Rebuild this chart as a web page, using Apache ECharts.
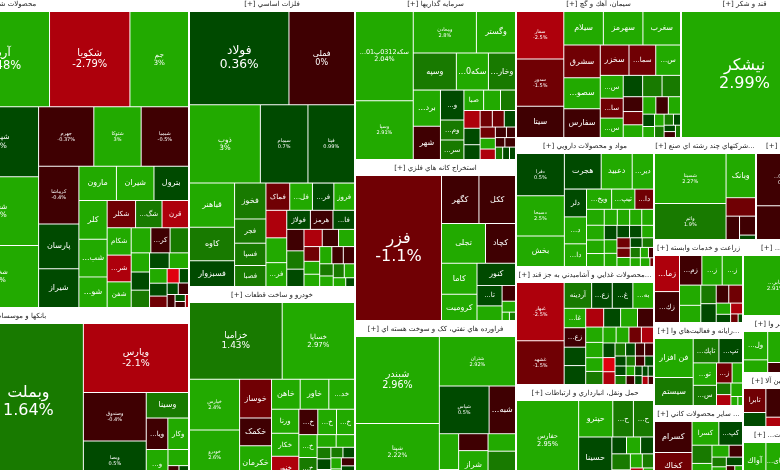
<!DOCTYPE html>
<html><head><meta charset="utf-8">
<style>html,body{margin:0;padding:0;background:#fff;overflow:hidden}#c{width:780px;height:470px}</style>
<script src="https://cdn.jsdelivr.net/npm/echarts@6/dist/echarts.min.js"></script>
</head><body><div id="c"></div>
<script>
// Each array: cell names (with change text where the cell prints it), traded size, % change.
const chemNames=["فارس\n1.2%","نوری\n2.5%","آریا\n2.48%","شکویا\n-2.79%","جم\n3%","شپدیس\n0.6%","شغدیر\n2.5%","شخارک\n2.7%","جهرم\n-0.37%","شتوکا\n3%","شیمیا\n-0.5%","کرماشا\n-0.4%","پارسان","شیراز","مارون","شیران","بترول","کلر","...شب","...شو","شکلر","...شگ","قرن","شکام","...شر","شفن","","...کر","","","","","...و","","","","","","","","","","","",""];
const chemValues=[22000,18500,8650,7450,5430,5600,5520,4960,3192,2736,2736,2262,1755,1521,1250,1250,1150,1064,1036,840,754,702,702,640,625,600,480,470,450,342,324,310,300,295,250,220,195,170,130,125,115,100,70,60,40];
const chemChanges=[1.2,2.5,2.48,-2.79,3,0.6,2.5,2.7,-0.37,3,-0.5,-0.4,0.5,0.5,2.5,2.5,0.5,2.5,2.5,2.5,-1.5,1.5,-2.5,2.5,-2.5,2.5,2.5,-0.4,1.5,2.5,0.5,1.5,0.5,2.5,2.5,0.5,-1.5,-3.5,0.5,0.5,-0.4,-0.4,0.5,-0.4,-2.5];

const bankNames=["وتجارت\n1.1%","وبملت\n1.64%","وپارس\n-2.1%","وصندوق\n-0.4%","وبصا\n0.5%","وسینا","...ویا","وکار","...و","","",""];
const bankValues=[24180,16850,7128,2989,2379,1058,667,638,640,325,150,130];
const bankChanges=[1.1,1.64,-2.1,-0.4,0.5,1.5,-0.4,2.5,2.5,2.5,-0.4,0.5];

const metalNames=["فولاد\n0.36%","فملی\n0%","ذوب\n3%","سیمام\n0.7%","فپنا\n0.99%","قباهنر","کاوه","فسبزوار","فخوز","فجر","فسپا","فصبا","فماک","...فل","...فر","فروز","","","...فر","فولاژ","هرمز","...فا","","","","","","","","","","","","","","","","","",""];
const metalValues=[9150,6030,5480,3680,3600,1960,1500,1140,1110,750,690,650,640,610,575,555,565,510,490,445,425,405,365,312,295,310,277,271,228,200,190,206,195,190,163,141,152,141,108,76];
const metalChanges=[0.36,0,3,0.7,0.99,2.5,1.5,0.5,1.5,1.5,1.5,1.5,-1.5,2.5,0.5,2.5,-2.5,2.5,2.5,0.5,-0.4,0.5,-0.4,1.5,0.5,-2.5,-0.4,2.5,-1.5,2.5,2.5,2.5,-0.4,-0.4,1.5,2.5,1.5,2.5,2.5,0.5];

const autoNames=["خزامیا\n1.43%","خساپا\n2.97%","خپارس\n2.4%","خودرو\n2.6%","خوساز","خکمک","خکرمان","خاهن","خاور","...خد","ورنا","خکار","خنور","...خ","...خ","...خ","...خ","...خ","","","","","","","","","","","",""];
const autoValues=[6734,5254,2400,2350,1170,840,1020,812,812,728,621,594,600,456,450,432,396,380,228,220,150,140,130,120,115,110,105,100,90,80];
const autoChanges=[1.43,2.97,2.4,2.6,-1.5,-0.4,2.5,2.5,2.5,2.5,2.5,2.5,-2.5,-0.4,2.5,2.5,2.5,1.5,2.5,2.5,1.5,0.5,1.5,1.5,0.5,2.5,2.5,-0.4,0.5,2.5];

const investNames=["...سکه0312پ01\n2.04%","وسپا\n2.91%","ومعادن\n2.8%","وگستر","وسپه","...سکه0","...وخار","...برد","شهر","...و","...وم","...سر","صبا","","","","","","","","","","","","","","","","","",""];
const investValues=[4840,3190,2457,1521,1505,1120,945,925,850,660,440,430,378,324,288,270,250,225,190,185,175,160,155,150,110,90,85,95,85,80,70];
const investChanges=[2.04,2.91,2.8,2.5,1.5,2.5,1.5,2.5,-0.4,0.5,1.5,1.5,2.5,2.5,1.5,-2.5,0.5,0.5,-1.5,-1.5,0.5,-1.5,2.5,-2.5,-0.4,-0.4,-0.4,-0.4,1.5,0.5,0.5];

const miningNames=["فزر\n-1.1%","کگهر","ککل","تجلی","کچاد","کاما","کرومیت","کنور","...تا","","","","",""];
const miningValues=[12240,1760,1720,1716,1170,1085,910,840,504,360,208,144,60,50];
const miningChanges=[-1.1,-0.4,-0.4,2.5,-0.4,2.5,2.5,0.5,0.5,2.5,-0.4,2.5,2.5,1.5];

const oilNames=["شبندر\n2.96%","شپنا\n2.22%","شتران\n2.92%","شپاس\n0.5%","...شبه","","","شسپا","شراز","...شن","","",""];
const oilValues=[7221,4648,3724,2352,1248,684,190,493,841,476,560,110,100];
const oilChanges=[2.96,2.22,2.92,0.5,-0.4,2.5,0.5,-0.4,2.5,2.5,1.5,-0.4,2.5];

const cementNames=["سفار\n-2.5%","سدور\n-1.5%","سیتا","سیلام","سهرمز","سغرب","سشرق","...سصو","سفارس","سخزر","...سما","...س","...س","...سا","...س","","","","","","","","","","","","","","","","","",""];
const cementValues=[2162,2162,1426,1280,1280,1216,1155,1085,1015,841,783,725,506,440,430,400,400,380,280,250,240,220,210,205,140,125,110,105,100,75,70,65,60];
const cementChanges=[-2.5,-1.5,-0.4,2.5,2.5,2.5,-1.5,2.5,-0.4,-1.5,-1.5,2.5,2.5,-1.5,2.5,0.5,1.5,1.5,-0.4,-1.5,2.5,2.5,-0.4,2.5,0.5,2.5,2.5,1.5,1.5,0.5,0.5,-0.4,1.5];

const sugarNames=["نیشکر\n2.99%"];
const sugarValues=[15750];
const sugarChanges=[2.99];

const pharmaNames=["دفرا\n0.5%","دسبحا\n2.5%","بخش","هجرت","دعبید","...دیر","دلر","...د","...دا","...ویخ","...تیپ","...دا","...ز","","","","","","","","","","","","","","","","","","","","","","","",""];
const pharmaValues=[1935,1845,1395,1254,1056,726,588,570,480,486,450,360,270,250,230,220,200,190,185,180,175,165,160,150,145,140,130,120,115,110,105,100,85,80,50,80,30];
const pharmaChanges=[0.5,2.5,2.5,0.5,2.5,2.5,0.5,2.5,2.5,2.5,2.5,-1.5,2.5,2.5,2.5,2.5,2.5,2.5,2.5,2.5,0.5,2.5,2.5,0.5,0.5,2.5,-1.5,-1.5,2.5,0.5,1.5,1.5,2.5,2.5,-0.4,2.5,-1.5];

const foodNames=["غبهار\n-2.5%","غشهد\n-1.5%","آردینه","...زع","...غ","...به","...غا","...زع","...غ","...غ","...غ","...غ","غزر","...غ","...غ","","","","","","","","","","","","","","","","","","","","","","","","","","","",""];
const foodValues=[2520,1890,644,483,483,483,380,380,360,370,306,288,288,272,240,240,215,205,190,185,180,175,160,155,140,125,115,110,105,100,95,90,85,85,80,75,70,65,60,55,50,45,40];
const foodChanges=[-2.5,-1.5,1.5,0.5,0.5,2.5,2.5,-0.4,0.5,0.5,-2.5,0.5,2.5,-0.4,2.5,2.5,2.5,1.5,2.5,2.5,-1.5,-2.5,0.5,-3.5,-2.5,1.5,0.5,-0.4,-0.4,0.5,0.5,1.5,1.5,-0.4,0.5,2.5,-0.4,0.5,0.5,0.5,0.5,-2.5,-0.4];

const transportNames=["حفارس\n2.95%","حپترو","...ح","...ح","حسینا","","","","","","","","",""];
const transportValues=[4960,1258,760,740,1428,250,240,220,300,180,170,160,150,120];
const transportChanges=[2.95,2.5,1.5,1.5,0.5,0.5,2.5,0.5,1.5,1.5,2.5,1.5,-2.5,2.5];

const multiNames=["شسینا\n2.27%","واتم\n1.9%","وبانک","...وکغد","","",""];
const multiValues=[3550,2556,1290,540,312,300,70];
const multiChanges=[2.27,1.9,2.5,-1.5,-0.4,-0.4,0.5];

const glassNames=["...کم04\n0%","",""];
const glassValues=[2666,900,820];
const glassChanges=[0,-0.4,-0.4];

const agriNames=["...زما","...زك","...زم","...ز","...ز","","...اغ","","","","","","","","",""];
const agriValues=[840,720,616,560,560,400,340,266,270,210,230,150,110,120,60,35];
const agriChanges=[-2.5,-0.4,-0.4,2.5,2.5,2.5,2.5,1.5,0.5,-0.4,-1.5,2.5,0.5,-2.5,-1.5,0.5];

const itNames=["فن افزار","سیستم","...تاپك","...تپ","...تو","...س","...ز","","","","","",""];
const itValues=[1443,1036,600,550,500,450,300,200,160,150,150,60,40];
const itChanges=[2.5,1.5,1.5,0.5,2.5,1.5,-1.5,2.5,1.5,-2.5,2.5,2.5,2.5];

const nonmetalNames=["کسرام","کخاك","کسرا","...کپ","...کرا","","","","","","","",""];
const nonmetalValues=[1088,950,594,525,340,300,190,150,130,170,130,110,100];
const nonmetalChanges=[-0.4,-1.5,2.5,0.5,1.5,2.5,2.5,-0.4,1.5,2.5,0.5,-0.4,2.5];

const telecomNames=["...خابر\n2.91%"];
const telecomValues=[4160];
const telecomChanges=[2.91];

const miscNames=["...ول","","","",""];
const miscValues=[672,300,663,546,390];
const miscChanges=[2.5,2.5,2.5,2.5,-0.4];

const machineNames=["تابرا","","","","","",""];
const machineValues=[504,294,480,156,150,400,300];
const machineChanges=[-1.5,0.5,-0.4,-2.5,1.5,-0.4,2.5];

const dataNames=["آواك","...های","",""];
const dataValues=[840,731,430,400];
const dataChanges=[2.5,2.5,-0.4,2.5];

const groupSizes={chem:116064,bank:63984,metal:48306,auto:32038,invest:26404,mining:25921,oil:25599,cement:23430,sugar:18034,pharma:17802,food:16284,transport:13110,multi:10404,glass:5304,agri:7387,it:7387,nonmetal:6586,telecom:4940,misc:3705,machine:3510,info:3445};

const FONT='"DejaVu Sans"';
function colorOf(c){
  if(c>=2) return '#22aa00';
  if(c>=1) return '#187a00';
  if(c>0) return '#004a00';
  if(c>-1) return '#3f0002';
  if(c>-2) return '#700004';
  if(c>-3) return '#ae000c';
  return '#e0000f';
}
function cells(names,values,changes){
  return names.map((name,i)=>{
    const v=values[i];
    const fs=name.includes('\n')?Math.max(5,Math.min(16,v/750)):(v<800?7:8);
    return {name,value:v,itemStyle:{color:colorOf(changes[i]),borderWidth:0,gapWidth:0},label:{fontSize:fs,lineHeight:Math.round(fs*1.15)}};
  });
}
function group(title,size,names,values,changes){
  return {name:title,value:size,
    upperLabel:{show:true,height:16,position:'inside',color:'#222',fontSize:7,fontFamily:FONT,overflow:'none'},
    itemStyle:{borderWidth:1,borderColor:'#fff',gapWidth:1},
    children:cells(names,values,changes)};
}
const regions=[
 {left:-185,top:-4,width:374,height:484,data:[
   group("[+] محصولات شیمیایی",groupSizes.chem,chemNames,chemValues,chemChanges),
   group("[+] بانکها و موسسات اعتباری",groupSizes.bank,bankNames,bankValues,bankChanges)]},
 {left:189,top:-4,width:166,height:484,data:[
   group("[+] فلزات اساسي",groupSizes.metal,metalNames,metalValues,metalChanges),
   group("[+] خودرو و ساخت قطعات",groupSizes.auto,autoNames,autoValues,autoChanges)]},
 {left:355,top:-4,width:161,height:484,data:[
   group("[+] سرمايه گذاريها",groupSizes.invest,investNames,investValues,investChanges),
   group("[+] استخراج کانه هاي فلزي",groupSizes.mining,miningNames,miningValues,miningChanges),
   group("[+] فراورده هاي نفتي، کک و سوخت هسته اي",groupSizes.oil,oilNames,oilValues,oilChanges)]},
 {left:516,top:-4,width:292,height:142,data:[
   group("[+] سيمان، آهك و گچ",groupSizes.cement,cementNames,cementValues,cementChanges),
   group("[+] قند و شكر",groupSizes.sugar,sugarNames,sugarValues,sugarChanges)]},
 {left:516,top:138,width:138,height:342,data:[
   group("[+] مواد و محصولات دارويي",groupSizes.pharma,pharmaNames,pharmaValues,pharmaChanges),
   group("[+] محصولات غذايي و آشاميدني به جز قند...",groupSizes.food,foodNames,foodValues,foodChanges),
   group("[+] حمل ونقل، انبارداري و ارتباطات",groupSizes.transport,transportNames,transportValues,transportChanges)]},
 {left:654,top:138,width:154,height:102,data:[
   group("[+] شرکتهاي چند رشته اي صنع...",groupSizes.multi,multiNames,multiValues,multiChanges),
   group("[+] ...گرم",groupSizes.glass,glassNames,glassValues,glassChanges)]},
 {left:654,top:240,width:89,height:240,data:[
   group("[+] زراعت و خدمات وابسته",groupSizes.agri,agriNames,agriValues,agriChanges),
   group("[+] رايانه و فعاليت‌هاي وا...",groupSizes.it,itNames,itValues,itChanges),
   group("[+] سایر محصولات کاني ...",groupSizes.nonmetal,nonmetalNames,nonmetalValues,nonmetalChanges)]},
 {left:743,top:240,width:65,height:240,data:[
   group("[+] ...ات",groupSizes.telecom,telecomNames,telecomValues,telecomChanges),
   group("[+] سایر وا...",groupSizes.misc,miscNames,miscValues,miscChanges),
   group("[+] ماشین آلا...",groupSizes.machine,machineNames,machineValues,machineChanges),
   group("[+] ...طلاعات",groupSizes.info,dataNames,dataValues,dataChanges)]}
];
const chart=echarts.init(document.getElementById('c'),null,{renderer:'canvas'});
chart.setOption({
  animation:false,
  backgroundColor:'#fff',
  textStyle:{fontFamily:FONT},
  tooltip:{show:false},
  series:regions.map(r=>({
    type:'treemap',left:r.left,top:r.top,width:r.width,height:r.height,
    roam:false,nodeClick:false,sort:false,visibleMin:0,silent:true,
    breadcrumb:{show:false},squareRatio:1.04,
    label:{show:true,position:'inside',color:'#fff',fontFamily:FONT,overflow:'none'},
    itemStyle:{borderWidth:0,gapWidth:0},
    data:r.data}))
});
</script></body></html>
